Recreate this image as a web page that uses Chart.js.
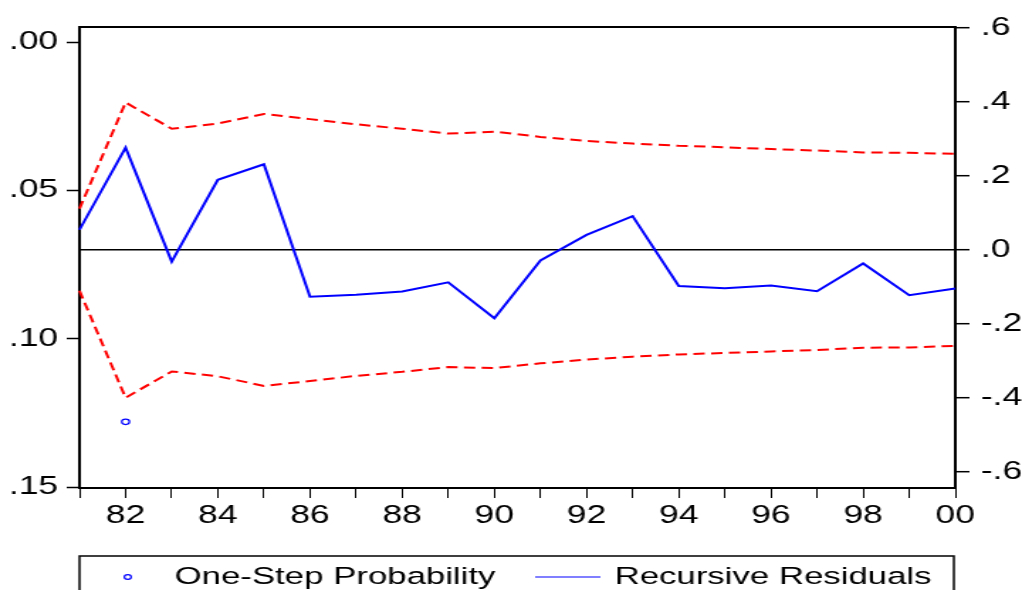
<!DOCTYPE html>
<html>
<head>
<meta charset="utf-8">
<script src="https://cdn.jsdelivr.net/npm/chart.js@4.4.1/dist/chart.umd.min.js"></script>
<style>
body{margin:0;background:#fff}
</style>
</head>
<body>
<!-- canvas is drawn narrow and stretched sideways, like the original picture -->
<canvas id="chart" width="720" height="590" style="display:block;width:1022px;height:590px"></canvas>
<script>

/* ---------------- DATA ---------------- */

const years = ["81","82","83","84","85","86","87","88","89","90","91","92","93","94","95","96","97","98","99","00"]

const residuals = [0.055,0.277,-0.031,0.190,0.232,-0.126,-0.121,-0.112,-0.087,-0.184,-0.028,0.041,0.092,-0.097,-0.103,-0.096,-0.111,-0.036,-0.122,-0.104]

const upperBand = [0.112,0.399,0.328,0.342,0.368,0.354,0.340,0.328,0.315,0.320,0.306,0.295,0.288,0.282,0.278,0.273,0.269,0.264,0.263,0.260]

const lowerBand = [-0.110,-0.399,-0.328,-0.341,-0.367,-0.354,-0.340,-0.329,-0.316,-0.319,-0.306,-0.296,-0.288,-0.282,-0.278,-0.274,-0.270,-0.264,-0.263,-0.259]

const probability = [null,0.128,null,null,null,null,null,null,null,null,null,null,null,null,null,null,null,null,null,null]

const probTicks = [0,0.05,0.10,0.15]
const residTicks = [-0.6,-0.4,-0.2,0,0.2,0.4,0.6]

const FONT = "'Liberation Sans', Arial, sans-serif"

/* ---------------- FRAME + LEGEND ---------------- */

const framePlugin = {
id:"frame",
afterDraw(chart){

const c = chart.ctx
const a = chart.chartArea

c.save()

// top edge of the plot box
c.strokeStyle = "#000"
c.lineWidth = 2
c.beginPath()
c.moveTo(a.left - 1, a.top)
c.lineTo(a.right + 1, a.top)
c.stroke()

// legend box
c.lineWidth = 1.5
c.strokeRect(a.left, 556, a.right - a.left - 1, 60)

const ds = chart.data.datasets
const y = 577

c.font = "24.5px " + FONT
c.fillStyle = "#000"
c.textBaseline = "middle"
c.textAlign = "left"

// one-step probability marker
c.strokeStyle = "#0000ff"
c.lineWidth = 1.2
c.beginPath()
c.arc(90, y, 2.4, 0, Math.PI * 2)
c.stroke()
c.fillText(ds[0].label, 123, y)

// recursive residuals line sample
c.beginPath()
c.moveTo(377, y)
c.lineTo(423, y)
c.stroke()
c.fillText(ds[1].label, 433, y)

c.restore()

}
}

/* ---------------- CHART ---------------- */

const ctx = document.getElementById("chart").getContext("2d")

new Chart(ctx,{
type:"line",
data:{
labels:years,
datasets:[
{
label:"One-Step Probability",
data:probability,
yAxisID:"y",
showLine:false,
pointRadius:2.7,
pointBorderWidth:1.2,
pointBorderColor:"#0000ff",
pointBackgroundColor:"rgba(0,0,0,0)",
borderColor:"#0000ff"
},
{
label:"Recursive Residuals",
data:residuals,
yAxisID:"y2",
borderColor:"#0000ff",
borderWidth:2,
pointRadius:0,
tension:0
},
{
label:"upper",
data:upperBand,
yAxisID:"y2",
borderColor:"#ff0000",
borderWidth:2,
borderDash:[8,4.5],
pointRadius:0,
tension:0
},
{
label:"lower",
data:lowerBand,
yAxisID:"y2",
borderColor:"#ff0000",
borderWidth:2,
borderDash:[8,4.5],
pointRadius:0,
tension:0
}
]
},
options:{
responsive:false,
animation:false,
layout:{padding:{top:27,left:0,right:0,bottom:0}},
plugins:{
legend:{display:false},
tooltip:{enabled:false}
},
scales:{
x:{
type:"category",
offset:false,
afterFit(scale){ scale.height = 102 },
border:{display:true,color:"#000",width:2},
grid:{drawOnChartArea:false,tickLength:10,tickColor:"#000",tickWidth:1},
ticks:{
autoSkip:false,
maxRotation:0,
padding:3,
color:"#000",
font:{family:FONT,size:25},
callback(v,i){ return i % 2 === 1 ? years[i] : "" }
}
},
y:{
position:"left",
reverse:true,
min:-0.00506,
max:0.1503,
afterFit(scale){ scale.width = 56 },
afterBuildTicks(scale){ scale.ticks = probTicks.map(v => ({value:v})) },
border:{display:true,color:"#000",width:2},
grid:{drawOnChartArea:false,tickLength:9,tickColor:"#000",tickWidth:1.5},
ticks:{
padding:6,
color:"#000",
font:{family:FONT,size:25},
callback(v){ return v.toFixed(2).replace(/^0/,"") }
}
},
y2:{
position:"right",
min:-0.643,
max:0.603,
afterFit(scale){ scale.width = 47 },
afterBuildTicks(scale){ scale.ticks = residTicks.map(v => ({value:v})) },
border:{display:true,color:"#000",width:2},
grid:{
drawOnChartArea:true,
lineWidth:1.4,
color(c){ return c.tick && Math.abs(c.tick.value) < 1e-9 ? "#000" : "rgba(0,0,0,0)" },
tickLength:10,
tickColor:"#000",
tickWidth:1.5
},
ticks:{
padding:8,
color:"#000",
font:{family:FONT,size:25},
callback(v){
if(Math.abs(v) < 1e-9) return ".0"
return v.toFixed(1).replace("0.",".")
}
}
}
}
},
plugins:[framePlugin]
})

</script>
</body>
</html>
